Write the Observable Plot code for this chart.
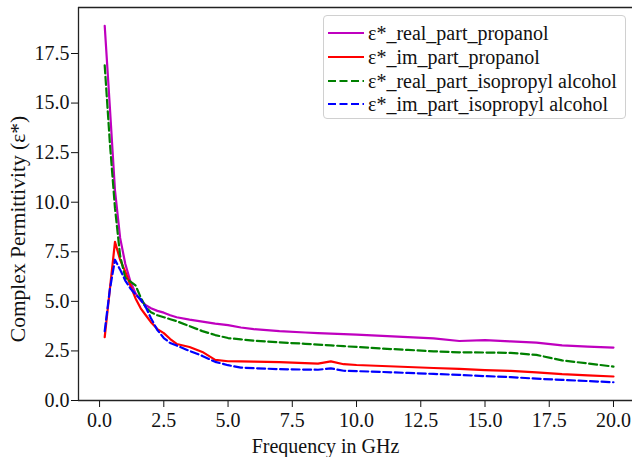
<!DOCTYPE html>
<html>
<head>
<meta charset="utf-8">
<script src="https://cdn.jsdelivr.net/npm/d3@7"></script>
<script src="https://cdn.jsdelivr.net/npm/@observablehq/plot@0.6"></script>
<style>
  html, body { margin: 0; padding: 0; background: #fff; }
  #chart { position: relative; width: 632px; height: 457px; font-family: 'Liberation Serif', 'Times New Roman', serif; }
  #legend {
    position: absolute; left: 323px; top: 15px; width: 303px; height: 104px;
    border: 1px solid #d0d0d0; border-radius: 4px; background: rgba(255,255,255,0.85);
    box-sizing: border-box; font-size: 20px; color: #111;
  }
  .row { position: absolute; left: 4px; height: 24px; display: flex; align-items: center; white-space: nowrap; }
  .row svg { width: 36px; height: 6px; margin-right: 4px; }
</style>
</head>
<body>
<div id="chart"></div>
<script>
// Frequency grid (GHz) shared by all four series
const freq = [0.2, 0.4, 0.6, 0.8, 1.0, 1.2, 1.4, 1.6, 1.8, 2.0, 2.25, 2.5, 2.75, 3.0, 3.5, 4.0, 4.5, 5.0, 5.5, 6, 7, 8, 8.5, 9, 9.5, 10, 11, 12, 13, 14, 15, 16, 17, 18, 19, 20];

// Complex permittivity components
const realPropanol = [18.9, 14.8, 10.6, 8.2, 6.9, 6.0, 5.4, 5.05, 4.8, 4.65, 4.52, 4.43, 4.3, 4.2, 4.08, 3.98, 3.88, 3.8, 3.68, 3.6, 3.5, 3.43, 3.4, 3.37, 3.35, 3.32, 3.26, 3.2, 3.13, 3.0, 3.04, 2.98, 2.92, 2.78, 2.72, 2.67];
const imPropanol = [3.2, 5.6, 8.0, 7.1, 6.5, 5.8, 5.15, 4.65, 4.3, 3.95, 3.6, 3.4, 3.1, 2.85, 2.7, 2.45, 2.05, 1.98, 1.97, 1.96, 1.94, 1.88, 1.86, 1.97, 1.83, 1.79, 1.74, 1.69, 1.64, 1.59, 1.53, 1.49, 1.42, 1.33, 1.27, 1.21];
const realIsopropyl = [16.9, 13.0, 9.7, 7.3, 6.2, 6.0, 5.8, 5.2, 4.7, 4.45, 4.3, 4.2, 4.1, 4.0, 3.75, 3.5, 3.3, 3.15, 3.08, 3.02, 2.93, 2.86, 2.82, 2.78, 2.74, 2.7, 2.62, 2.55, 2.48, 2.43, 2.42, 2.4, 2.3, 2.02, 1.87, 1.71];
const imIsopropyl = [3.5, 5.6, 7.1, 6.6, 6.05, 5.65, 5.35, 5.1, 4.7, 4.15, 3.55, 3.15, 2.9, 2.77, 2.5, 2.25, 1.95, 1.78, 1.66, 1.63, 1.58, 1.56, 1.55, 1.62, 1.5, 1.48, 1.44, 1.39, 1.34, 1.29, 1.23, 1.18, 1.1, 1.04, 0.98, 0.92];

const seriesNames = ["ε*_real_part_propanol", "ε*_im_part_propanol", "ε*_real_part_isopropyl alcohol", "ε*_im_part_isopropyl alcohol"];
const seriesValues = [realPropanol, imPropanol, realIsopropyl, imIsopropyl];
const seriesColors = ["#bf00bf", "#ff0000", "#008000", "#0000ff"];
const seriesDash = [null, null, "8,3.5", "8,3.5"];

const xTicks = [0, 2.5, 5, 7.5, 10, 12.5, 15, 17.5, 20];
const yTicks = [0, 2.5, 5, 7.5, 10, 12.5, 15, 17.5];
const xDomain = [-0.82, 20.74];
const yDomain = [0, 19.82];

const xLabel = "Frequency in GHz";
const yLabel = "Complex Permittivity (ε*)";

const serif = "'Liberation Serif', 'Times New Roman', serif";

const tables = seriesValues.map(vals => freq.map((f, i) => ({f, v: vals[i]})));

const lineMarks = tables.map((t, k) => Plot.line(t, {
  x: "f", y: "v",
  stroke: seriesColors[k],
  strokeWidth: 2.2,
  strokeDasharray: seriesDash[k] ?? undefined
}));

const chart = Plot.plot({
  width: 632,
  height: 457,
  marginLeft: 78,
  marginRight: 0,
  marginTop: 7,
  marginBottom: 57,
  style: {fontFamily: serif, fontSize: "20px", color: "#111", background: "#fff"},
  x: {domain: xDomain, ticks: xTicks, tickFormat: d => d.toFixed(1), tickSize: 7, tickPadding: 5, label: null},
  y: {domain: yDomain, ticks: yTicks, tickFormat: d => d.toFixed(1), tickSize: 7, tickPadding: 2, label: null},
  marks: [
    ...lineMarks,
    // axes spines
    Plot.ruleX([xDomain[0]], {stroke: "#222", strokeWidth: 1.3}),
    Plot.ruleY([yDomain[0]], {stroke: "#222", strokeWidth: 1.3}),
    Plot.ruleY([yDomain[1]], {stroke: "#222", strokeWidth: 1.3}),
    // axis titles
    Plot.text([xLabel], {frameAnchor: "bottom", textAnchor: "middle", dx: -30, dy: 46, fontSize: 20, fill: "#111", lineAnchor: "middle"}),
    Plot.text([yLabel], {frameAnchor: "left", textAnchor: "middle", rotate: -90, dx: -60, dy: 25, fontSize: 21.5, fill: "#111", lineAnchor: "middle"})
  ]
});

const root = document.getElementById("chart");
root.appendChild(chart);

// legend box
const legend = document.createElement("div");
legend.id = "legend";
const rowTops = [5, 29, 53, 76];
seriesNames.forEach((name, k) => {
  const row = document.createElement("div");
  row.className = "row";
  row.style.top = rowTops[k] + "px";
  const dash = seriesDash[k] ? ` stroke-dasharray="${seriesDash[k]}"` : "";
  row.innerHTML = `<svg viewBox="0 0 36 6"><line x1="0" y1="3" x2="36" y2="3" stroke="${seriesColors[k]}" stroke-width="2.2"${dash}/></svg><span>${name}</span>`;
  legend.appendChild(row);
});
root.appendChild(legend);
</script>
</body>
</html>
